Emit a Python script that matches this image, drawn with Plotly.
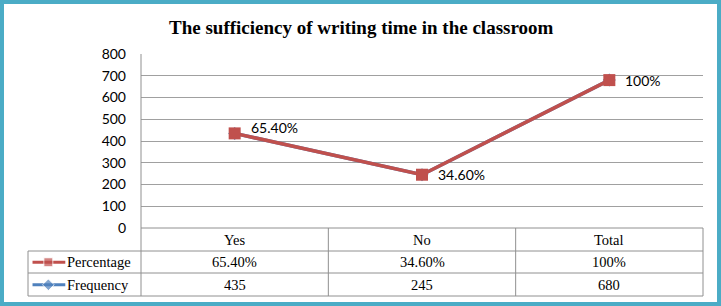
import plotly.graph_objects as go

# ---- data ----
categories = ["Yes", "No", "Total"]
frequency = [435, 245, 680]
percentage_labels = ["65.40%", "34.60%", "100%"]
series_names = ["Percentage", "Frequency"]
y_ticks = [0, 100, 200, 300, 400, 500, 600, 700, 800]

W, H = 721, 306
RED = "#C0504D"
BLUE = "#4F81BD"
GRID = "#A0A0A0"
TABLE = "#909090"
TEAL = "#4BACC6"

def px(xp):
    return xp / W

def py(yp):
    return 1 - yp / H

# layout geometry in pixels
PL, PR, PT, PB = 141, 703, 54, 228
ROWS = [228, 251, 273, 296]      # table row boundaries
LEG_L = 28

fig = go.Figure()

# Frequency (hidden under Percentage, same values)
fig.add_trace(go.Scatter(
    x=categories, y=frequency, mode="lines+markers", name="Frequency",
    line=dict(color=BLUE, width=3.5), marker=dict(symbol="diamond", size=10, color=BLUE),
    showlegend=False, hoverinfo="skip"))
# Percentage series
fig.add_trace(go.Scatter(
    x=categories, y=frequency, mode="lines+markers", name="Percentage",
    line=dict(color=RED, width=3.5), marker=dict(symbol="square", size=12, color=RED),
    showlegend=False))

# data labels
yshifts = [6, 0, 0]
for c, v, lab, ys in zip(categories, frequency, percentage_labels, yshifts):
    fig.add_annotation(x=c, y=v, text=lab, showarrow=False, xanchor="left", yanchor="middle",
                       xshift=14, yshift=ys, font=dict(family="Lato", size=14, color="#000"))

# legend glyphs on a small overlay axis
glyph_x = [0.04, 0.18, 0.33]
for i, (name, col, sym, sz) in enumerate([("Percentage", RED, "square", 9),
                                          ("Frequency", BLUE, "diamond", 9)]):
    yc = 0.75 - 0.5 * i
    fig.add_trace(go.Scatter(
        x=glyph_x, y=[yc] * 3, xaxis="x2", yaxis="y2", mode="lines+markers",
        line=dict(color=col, width=3), marker=dict(symbol=sym, size=[0, sz, 0], color=col),
        showlegend=False, hoverinfo="skip"))

shapes = []
line_style = dict(color=TABLE, width=1)
# horizontal table lines
shapes.append(dict(type="line", xref="paper", yref="paper", x0=px(PL), x1=px(PR),
                   y0=py(ROWS[0]), y1=py(ROWS[0]), line=line_style))
for r in ROWS[1:]:
    shapes.append(dict(type="line", xref="paper", yref="paper", x0=px(LEG_L), x1=px(PR),
                       y0=py(r), y1=py(r), line=line_style))
# vertical lines
n = len(categories)
for i in range(n + 1):
    xv = PL + i * (PR - PL) / n
    top = PT if i == 0 else ROWS[0]
    shapes.append(dict(type="line", xref="paper", yref="paper", x0=px(xv), x1=px(xv),
                       y0=py(top), y1=py(ROWS[-1]), line=line_style))
shapes.append(dict(type="line", xref="paper", yref="paper", x0=px(LEG_L), x1=px(LEG_L),
                   y0=py(ROWS[1]), y1=py(ROWS[-1]), line=line_style))
# outer teal border
shapes.append(dict(type="rect", xref="paper", yref="paper", x0=px(2), x1=px(W - 2),
                   y0=py(H - 2), y1=py(2), line=dict(color=TEAL, width=4)))

annotations = []
tfont = dict(family="Liberation Serif", size=14.5, color="#000")
row_c = [(ROWS[k] + ROWS[k + 1]) / 2 for k in range(3)]
for c, f, p in zip(categories, frequency, percentage_labels):
    annotations.append(dict(x=c, xref="x", y=py(row_c[0]), yref="paper", text=c,
                            yanchor="middle", xanchor="center", showarrow=False, font=tfont))
    annotations.append(dict(x=c, xref="x", y=py(row_c[1]), yref="paper", text=p,
                            yanchor="middle", xanchor="center", showarrow=False, font=tfont))
    annotations.append(dict(x=c, xref="x", y=py(row_c[2]), yref="paper", text=str(f),
                            yanchor="middle", xanchor="center", showarrow=False, font=tfont))
for i, name in enumerate(series_names):
    annotations.append(dict(x=px(65), xref="paper", y=py(row_c[1 + i]), yref="paper",
                            text=name, xanchor="left", yanchor="middle",
                            showarrow=False, font=tfont))
# title
annotations.append(dict(x=px(361), xref="paper", y=py(27), yref="paper",
                        text="<b>The sufficiency of writing time in the classroom</b>",
                        xanchor="center", yanchor="middle", showarrow=False,
                        font=dict(family="Liberation Serif", size=19, color="#000")))

for a in annotations:
    fig.add_annotation(**a)

fig.update_layout(
    width=W, height=H,
    margin=dict(l=0, r=0, t=0, b=0, pad=0),
    paper_bgcolor="white", plot_bgcolor="white",
    shapes=shapes,
    xaxis=dict(domain=[px(PL), px(PR)], type="category", range=[-0.5, n - 0.5],
               showticklabels=False, showgrid=False, zeroline=False, showline=False,
               automargin=False, fixedrange=True),
    yaxis=dict(domain=[py(PB), py(PT)], range=[0, 800], tickvals=y_ticks,
               showgrid=True, gridcolor=GRID, gridwidth=1, zeroline=False, showline=False,
               ticks="", ticklabelstandoff=14, automargin=False, fixedrange=True,
               tickfont=dict(family="Lato", size=14, color="#000")),
    xaxis2=dict(domain=[px(LEG_L), px(PL)], range=[0, 1], visible=False, anchor="y2",
                automargin=False, fixedrange=True),
    yaxis2=dict(domain=[py(ROWS[-1]), py(ROWS[1])], range=[0, 1], visible=False, anchor="x2",
                automargin=False, fixedrange=True),
    showlegend=False,
)

fig.write_html("out.html", config={"displayModeBar": False},
               post_script="document.body.style.margin='0';document.body.style.padding='0';"
                           "document.body.style.overflow='hidden';")
